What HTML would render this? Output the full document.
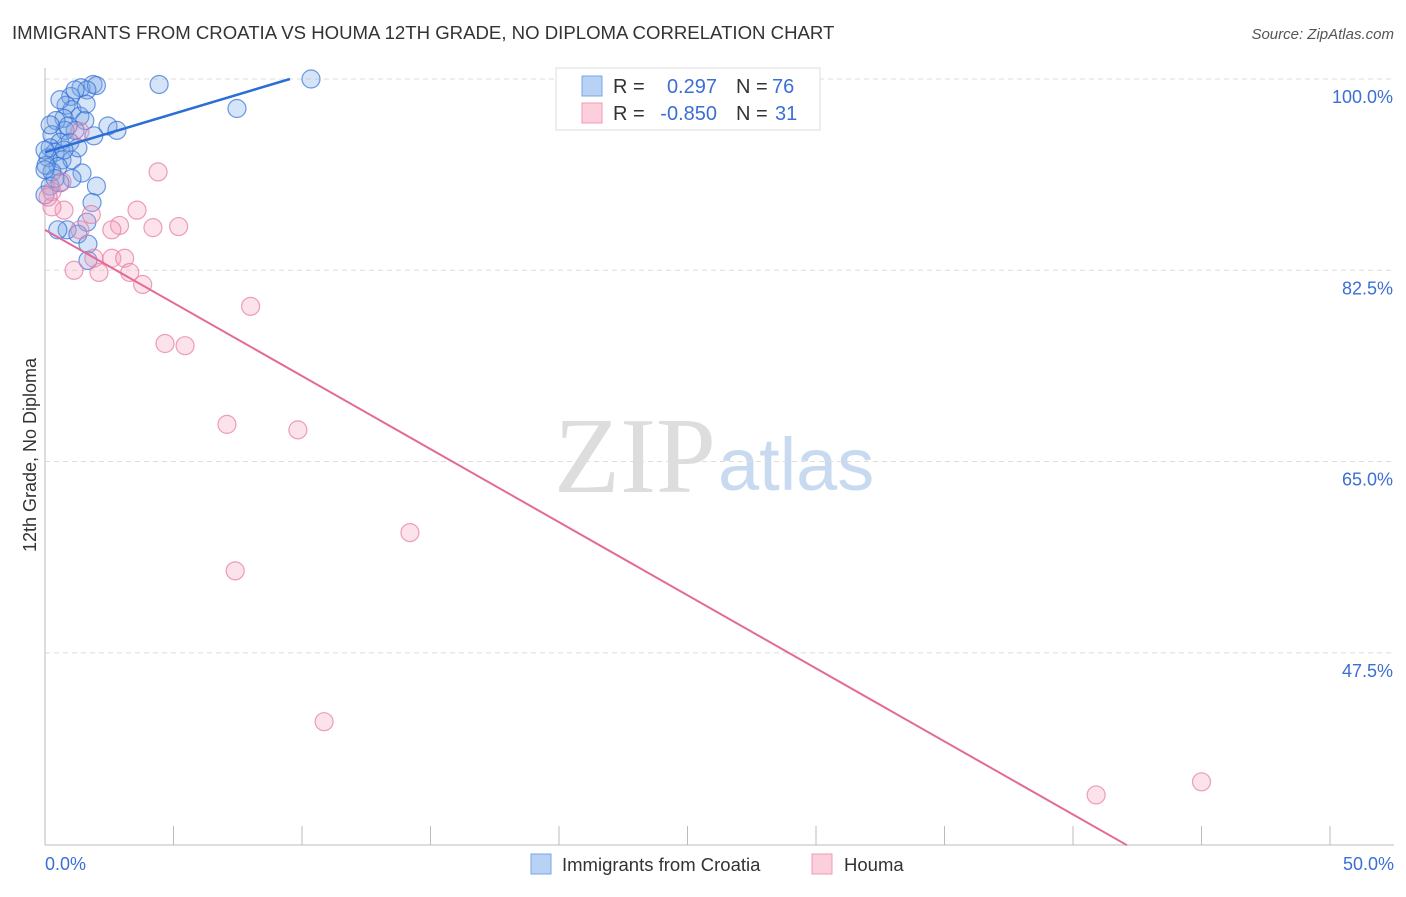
<!DOCTYPE html>
<html><head><meta charset="utf-8"><style>
body{margin:0;background:#fff;font-family:"Liberation Sans",sans-serif;}
</style></head><body>
<svg width="1406" height="892" xmlns="http://www.w3.org/2000/svg" font-family="Liberation Sans, sans-serif">
<text x="12" y="39" font-size="18.6" fill="#333">IMMIGRANTS FROM CROATIA VS HOUMA 12TH GRADE, NO DIPLOMA CORRELATION CHART</text>
<text x="1394" y="39" font-size="15" fill="#555" text-anchor="end" font-style="italic">Source: ZipAtlas.com</text>
<text x="716" y="492" font-size="108" fill="#ddd" text-anchor="end" font-family="Liberation Serif, serif">ZIP</text>
<text x="718" y="490" font-size="74" fill="#c8daf0">atlas</text>
<g id="grid"></g><g id="axes"></g><g id="pts"></g><g id="lines"></g>
<text x="36" y="455" font-size="18" fill="#333" text-anchor="middle" transform="rotate(-90 36 455)">12th Grade, No Diploma</text>
<text x="45" y="870" font-size="18" fill="#3b6fd4">0.0%</text>
<text x="1394" y="870" font-size="18" fill="#3b6fd4" text-anchor="end">50.0%</text>
<g font-size="20">
<rect x="556" y="68" width="264" height="62" fill="#fff" stroke="#ddd"/>
<rect x="582" y="76" width="20" height="20" fill="#b8d1f5" stroke="#7aa6e6"/>
<rect x="582" y="103" width="20" height="20" fill="#fbcfdc" stroke="#f09ab5"/>
<text x="613" y="93" fill="#333">R =</text>
<text x="717" y="93" fill="#3b6fd4" text-anchor="end">0.297</text>
<text x="736" y="93" fill="#333">N =</text>
<text x="772" y="93" fill="#3b6fd4">76</text>
<text x="613" y="120" fill="#333">R =</text>
<text x="717" y="120" fill="#3b6fd4" text-anchor="end">-0.850</text>
<text x="736" y="120" fill="#333">N =</text>
<text x="775" y="120" fill="#3b6fd4">31</text>
</g>
<g><rect x="531" y="854" width="20" height="20" fill="#b8d1f5" stroke="#7aa6e6"/><text x="562" y="871" font-size="18.5" fill="#333">Immigrants from Croatia</text></g>
<g><rect x="812" y="854" width="20" height="20" fill="#fbcfdc" stroke="#f09ab5"/><text x="844" y="871" font-size="18.5" fill="#333">Houma</text></g>
</svg>
<script>
const yTicks=[100,82.5,65,47.5];
const xTickCount=10;
const blueX=[4.44,10.35,7.47,1.4,1.87,2.0,1.63,1.0,0.82,1.05,0.74,0.43,1.36,1.55,2.45,2.8,1.9,1.17,0.78,0.27,0.58,0.2,0.39,0.12,0.66,1.05,0.51,0.27,1.44,1.05,0.58,2.0,0.2,0,1.83,1.63,0.86,1.28,1.67,1.67,0.97,1.28,0.04,0.39,0.9,1.6,0.58,0.2,1.17,0.74,0,0,0.5];
const blueY=[99.5,100,97.3,99.2,99.5,99.4,99.0,98.4,97.6,97.2,96.4,96.2,96.6,96.2,95.7,95.3,94.8,95.3,95.3,94.9,94.2,93.7,93.3,92.8,92.6,92.6,92.0,91.5,91.4,90.9,90.5,90.2,90.2,89.4,88.7,86.9,86.2,85.8,84.9,83.4,94.2,93.7,92.1,90.9,95.7,97.7,98.1,95.8,99.0,93.5,91.7,93.5,86.2];
const pinkX=[4.4,3.58,4.2,5.2,2.9,2.6,1.8,0.74,0.27,0.27,1.36,1.13,2.1,1.9,2.6,3.1,3.3,3.8,8.0,4.67,5.45,7.08,9.84,14.2,7.4,10.86,40.9,45.0,0.66,0.12,1.36];
const pinkY=[91.5,88.0,86.4,86.5,86.6,86.2,87.6,88.0,88.3,89.7,86.2,82.5,82.3,83.6,83.6,83.6,82.3,81.2,79.2,75.8,75.6,68.4,67.9,58.5,55.0,41.2,34.5,35.7,90.6,89.2,95.2];
const blueLine=[[0,93.3],[9.53,100]];
const pinkLine=[[0,86.2],[42.1,29.9]];
const X=v=>45+v*25.7, Y=v=>79+(100-v)*10.93;
const NS='http://www.w3.org/2000/svg';
function mk(t,a,p){const e=document.createElementNS(NS,t);for(const k in a)e.setAttribute(k,a[k]);document.getElementById(p).appendChild(e);return e;}
yTicks.forEach(t=>{
 const l=mk('line',{x1:45,x2:1394,y1:Y(t),y2:Y(t),stroke:'#ddd','stroke-dasharray':'5,4'},'grid');
 
 
 const tx=mk('text',{x:1393,y:Y(t)+24,'font-size':18,fill:'#3b6fd4','text-anchor':'end'},'grid');
 tx.textContent=t.toFixed(1)+'%';
 
 
});
const ax=mk('line',{x1:45,x2:45,y1:68,y2:845,stroke:'#bbb'},'axes');


const bx=mk('line',{x1:45,x2:1394,y1:845,y2:845,stroke:'#bbb'},'axes');


for(let i=1;i<=xTickCount;i++){
 const t=mk('line',{x1:X(i*5),x2:X(i*5),y1:826,y2:845,stroke:'#bbb'},'axes');
 
 
}
blueX.forEach((v,i)=>{
 const c=mk('circle',{cx:X(v),cy:Y(blueY[i]),r:9,fill:'rgba(120,165,230,0.3)',stroke:'rgba(50,110,215,0.7)','stroke-width':1.2},'pts');
 
 
});
pinkX.forEach((v,i)=>{
 const c=mk('circle',{cx:X(v),cy:Y(pinkY[i]),r:9,fill:'rgba(245,160,190,0.3)',stroke:'rgba(230,120,160,0.7)','stroke-width':1.2},'pts');
 
 
});
const bl=mk('line',{x1:X(blueLine[0][0]),y1:Y(blueLine[0][1]),x2:X(blueLine[1][0]),y2:Y(blueLine[1][1]),stroke:'#2a6ed6','stroke-width':2.5},'lines');


const pl=mk('line',{x1:X(pinkLine[0][0]),y1:Y(pinkLine[0][1]),x2:X(pinkLine[1][0]),y2:Y(pinkLine[1][1]),stroke:'#e46a96','stroke-width':2},'lines');


</script>
</body></html>
